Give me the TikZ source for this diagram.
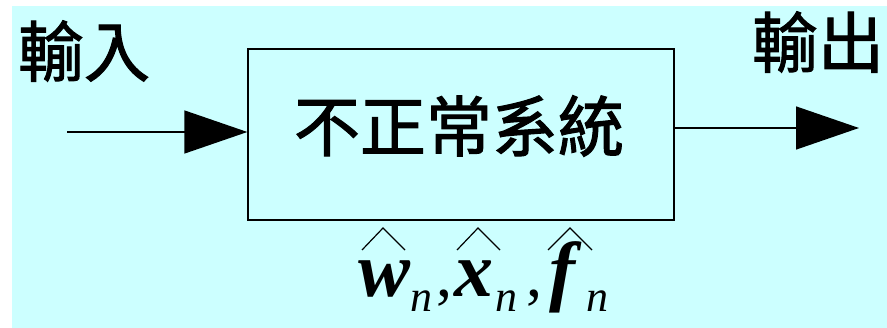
\documentclass[tikz,border=0pt]{standalone}
\usepackage{fontspec}
\setmainfont{Liberation Serif}
\newfontfamily\cjk[FakeBold=1.6]{Noto Sans CJK TC}
\usetikzlibrary{arrows.meta}
\definecolor{bgcyan}{HTML}{CCFFFF}
\tikzset{
  cjktext/.style={font=\cjk\fontsize{66}{72}\selectfont, inner sep=0pt},
  mainletter/.style={font=\fontsize{78}{84}\selectfont\bfseries\itshape, inner sep=0pt, anchor=base west},
  subletter/.style={font=\fontsize{44}{48}\selectfont\itshape, inner sep=0pt, anchor=base west},
  commachar/.style={font=\fontsize{64}{70}\selectfont, inner sep=0pt, anchor=base west},
  hatline/.style={line width=1.2pt, line join=miter},
  flow/.style={line width=1.4pt, -{Triangle[length=63pt,width=43pt]}},
  sysbox/.style={draw, line width=1.3pt, minimum width=426pt, minimum height=171pt, inner sep=0pt}
}
\begin{document}
\begin{tikzpicture}[x=1pt,y=-1pt]
\useasboundingbox (0,0) rectangle (887,328);
\fill[white] (0,0) rectangle (887,328);
\fill[bgcyan] (12,6) rectangle (887,328);
\node[sysbox] (sys) at (461,134.5) {};
\node[cjktext] (title) at (459,126) {不正常系統};
\node[cjktext] (inlbl) at (84,51) {輸入};
\node[cjktext] (outlbl) at (818,42) {輸出};
\coordinate (in) at (67,132);
\coordinate (out) at (859,128);
\draw[flow] (in) -- (in -| sys.west);
\draw[flow] (out -| sys.east) -- (out);
% estimate symbols
\node[mainletter] (w) at (358,297) {w};
\node[subletter] (wn) at (410,312) {n};
\node[commachar] (c1) at (436,297) {,};
\node[mainletter] (x) at (454,297) {x};
\node[subletter] (xn) at (495,312) {n};
\node[commachar] (c2) at (526,297) {,};
\node[mainletter] (f) at (549,297) {f};
\node[subletter] (fn) at (586,312) {n};
\draw[hatline] (362,250) -- (383,228) -- (405,250);
\draw[hatline] (457,250) -- (478,228) -- (500,250);
\draw[hatline] (548,250) -- (570,228) -- (592,250);
\end{tikzpicture}
\end{document}
